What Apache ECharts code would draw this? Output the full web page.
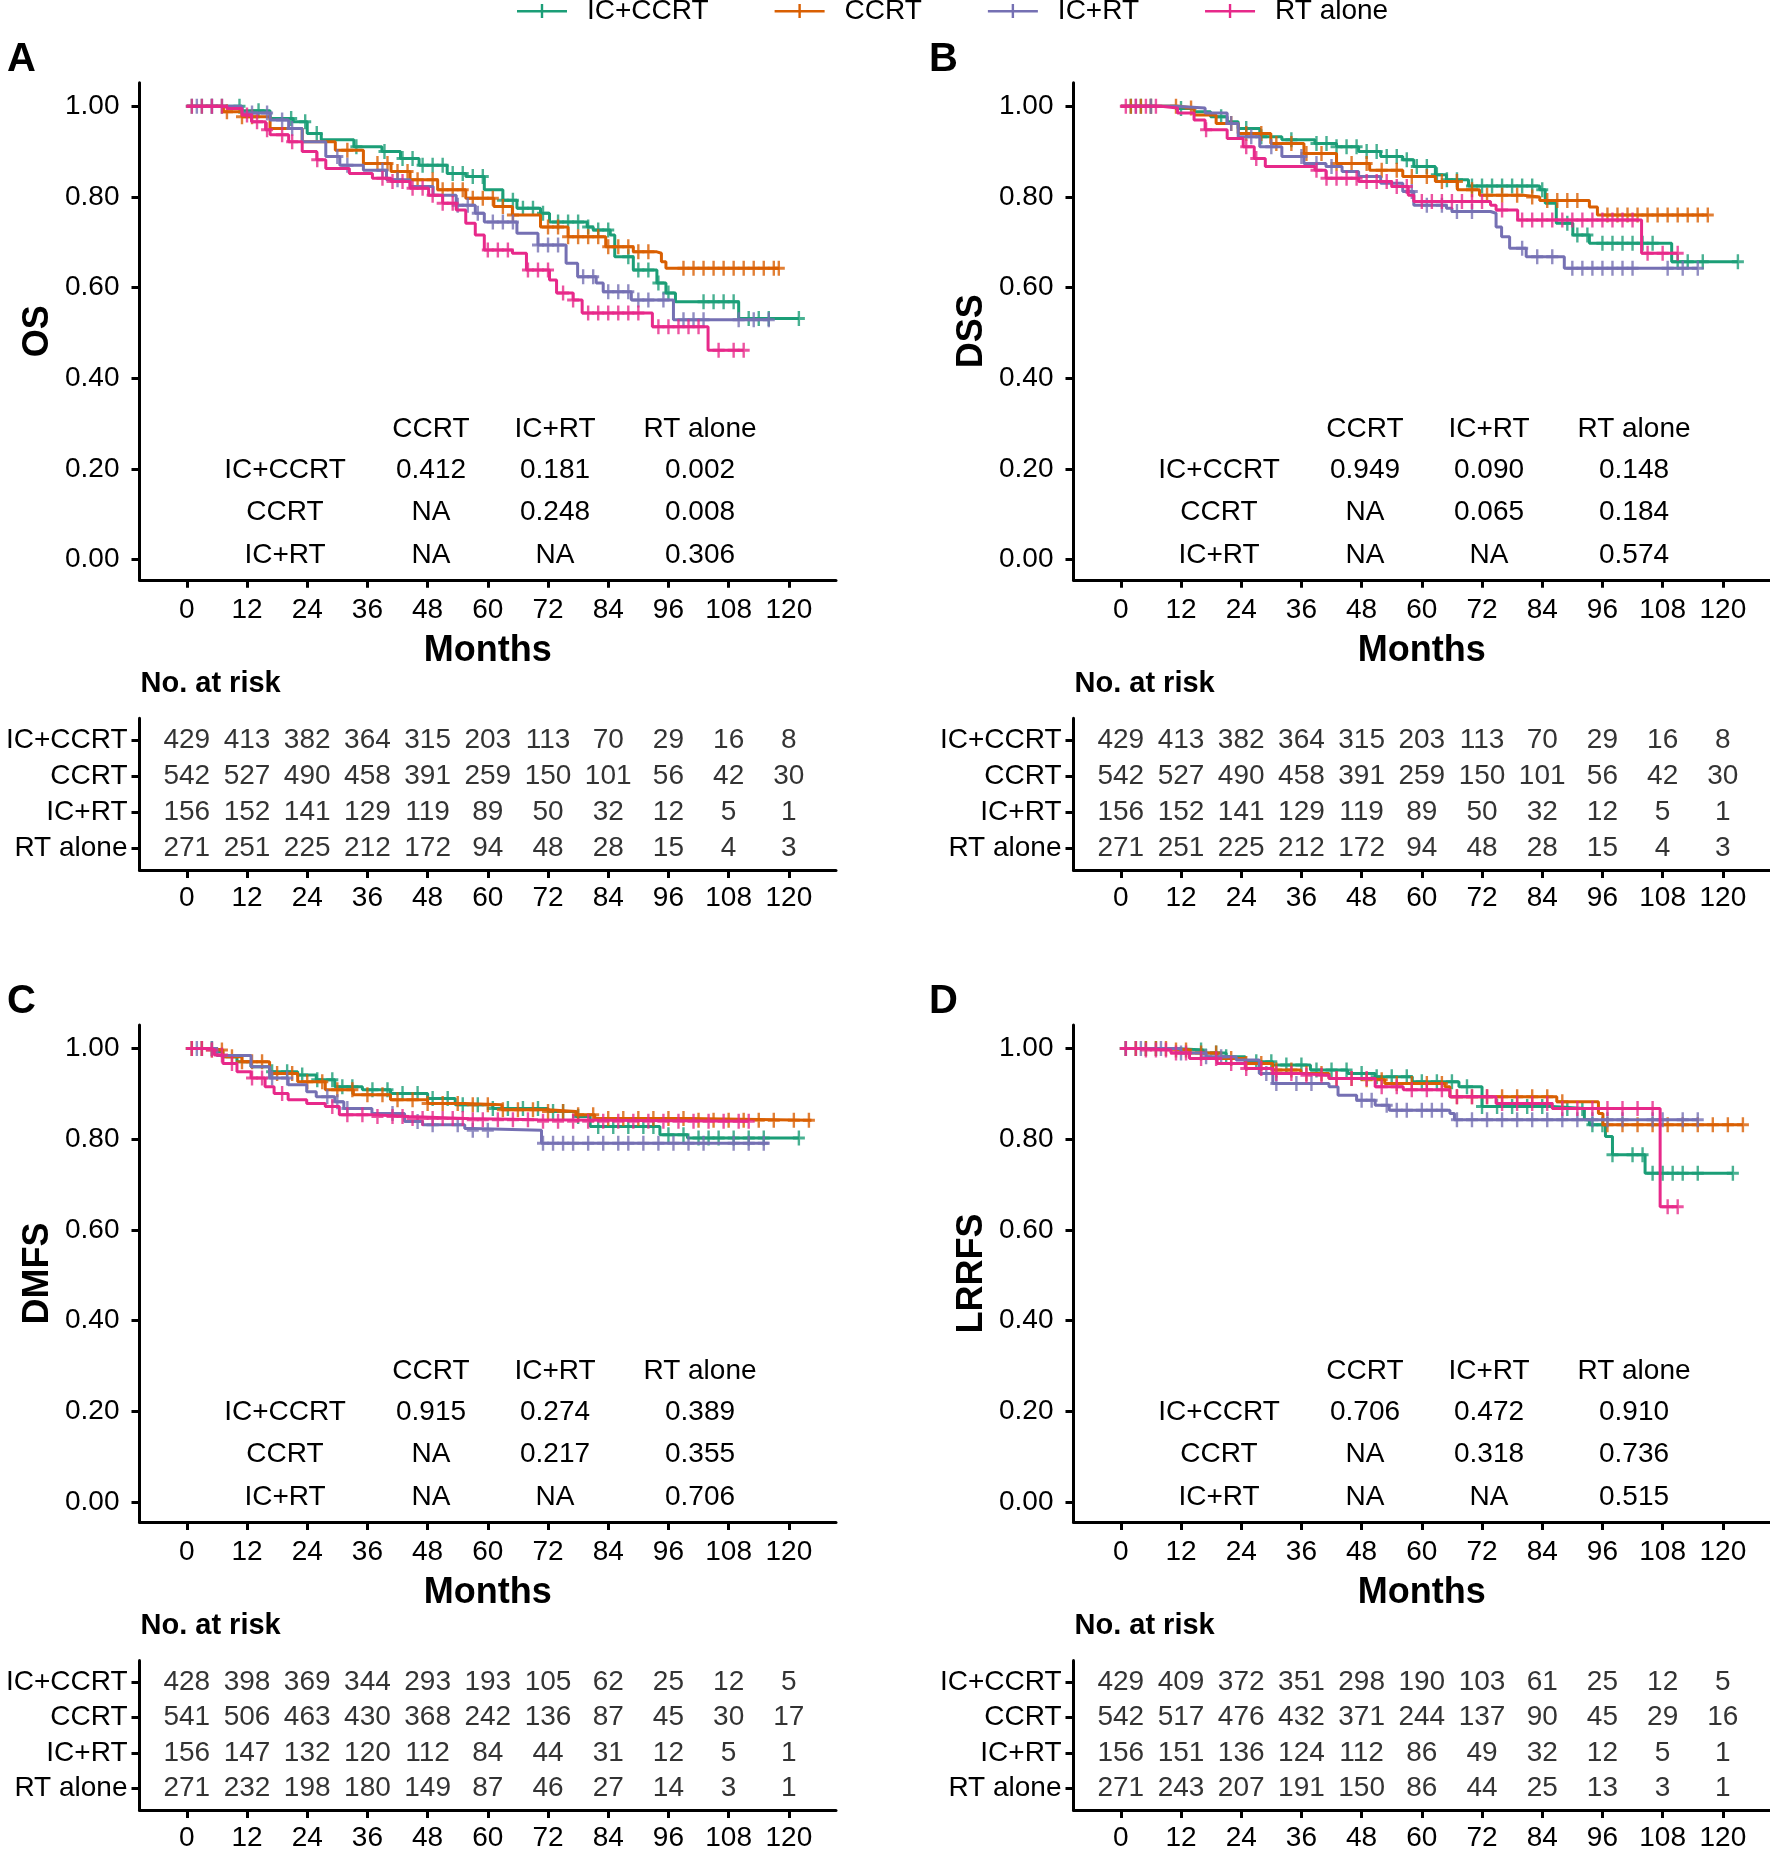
<!DOCTYPE html>
<html><head><meta charset="utf-8">
<script src="https://cdn.jsdelivr.net/npm/echarts@6/dist/echarts.min.js"></script>
<style>html,body{margin:0;padding:0;background:#fff}#c{width:1770px;height:1852px}</style>
</head><body><div id="c"></div>
<script>
// ---------------- DATA ----------------
const groups = ['IC+CCRT', 'CCRT', 'IC+RT', 'RT alone'];
const monthTicks = [0, 12, 24, 36, 48, 60, 72, 84, 96, 108, 120];
const survTicks = [0, 0.2, 0.4, 0.6, 0.8, 1.0];
const panelLetters = ['A', 'B', 'C', 'D'];
const panelTitles = ['OS', 'DSS', 'DMFS', 'LRRFS'];

// Panel A (OS) step curves [month, survival]
const A_ICCCRT = [[0,1],[11,0.99],[16.6,0.973],[21.2,0.966],[24,0.94],[26.8,0.926],[33.3,0.911],[38.9,0.9],[42.6,0.885],[46.3,0.87],[51.9,0.852],[55.6,0.845],[59.3,0.816],[63,0.793],[65.8,0.775],[70.5,0.764],[72.3,0.745],[79.8,0.734],[81,0.727],[84.4,0.716],[85.3,0.668],[89,0.639],[93.7,0.61],[95.5,0.588],[97.4,0.569],[110,0.532],[122,0.532]];
const A_CCRT = [[0,1],[7.3,0.988],[11,0.977],[16.6,0.951],[23,0.922],[29.6,0.903],[35.2,0.874],[40.7,0.856],[44.5,0.838],[50,0.816],[55.6,0.797],[61.2,0.779],[64.9,0.76],[70.5,0.734],[76,0.712],[83.5,0.69],[89,0.679],[93.7,0.676],[94.6,0.657],[95.5,0.643],[118,0.643]];
const A_ICRT = [[0,1],[11,0.985],[16.6,0.97],[20.3,0.951],[23,0.922],[27.7,0.889],[30.5,0.87],[35.2,0.859],[39.8,0.838],[44.5,0.823],[49.1,0.804],[53.7,0.782],[57.5,0.764],[59.3,0.745],[65.8,0.72],[70,0.694],[75.6,0.654],[77.9,0.624],[81.6,0.61],[83,0.591],[88.6,0.573],[97,0.529],[116,0.529]];
const A_RT = [[0,1],[8,0.995],[11,0.981],[12.9,0.966],[15.7,0.948],[16.6,0.937],[20.3,0.922],[23,0.9],[25.9,0.882],[27.7,0.863],[32.4,0.852],[37,0.841],[40.7,0.834],[44.5,0.819],[48.2,0.804],[51,0.786],[53.7,0.771],[55.6,0.742],[57.5,0.716],[59.3,0.683],[64.9,0.676],[67.7,0.639],[72.3,0.617],[73.7,0.588],[77,0.573],[78.8,0.544],[92.8,0.514],[103.9,0.462],[111,0.462]];
// Panel A censor times (months)
const A_ICCCRT_cens = [1,3,5,7,10.5,14.3,20.8,23.6,25.9,33.8,39.4,43,45,47,49,51,53,55,57,59,63,65,67,69,71,74,76,78,80,82,84,88,90,92,94,96,103,105,107,109,112,114,116,122];
const A_CCRT_cens = [8,11,13,32,38,40,42,44,46,49,51,53,55,57,59,61,63,65,72,74,76,78,80,82,84,86,88,90,92,99,101,103,105,107,109,111,113,115,117,118];
const A_ICRT_cens = [2,5,13,16,19,21,30,32,39,42,54,56,58,61,63,65,70,72,74,79,81,84,86,88,90,92,95,99,101,103,110,113,116];
const A_RT_cens = [1,3,5,7,12,14,16,19,21,26,39,41,43,45,47,49,51,53,60,62,64,68,70,72,75,77,80,82,84,86,88,90,94,96,98,100,102,106,109,111];

// Panel B (DSS)
const B_ICCCRT = [[0,1],[11,0.995],[14.6,0.988],[17.9,0.977],[21.2,0.966],[23.4,0.951],[27.7,0.933],[32.1,0.926],[38.7,0.918],[43,0.911],[47.4,0.9],[51.8,0.889],[56.2,0.882],[58.4,0.867],[62.7,0.849],[64.9,0.838],[69.3,0.824],[83.5,0.816],[84.6,0.786],[86.8,0.742],[90.1,0.716],[93.4,0.698],[109.8,0.657],[123,0.657]];
const B_CCRT = [[0,1],[11.3,0.996],[14.6,0.981],[19,0.962],[23.4,0.94],[29.9,0.918],[36.5,0.896],[43,0.874],[49.6,0.859],[56.2,0.845],[62.7,0.834],[67.1,0.816],[71.5,0.804],[80.2,0.8],[83.5,0.792],[93.4,0.778],[95,0.76],[117,0.76]];
const B_ICRT = [[0,1],[11,0.996],[16.8,0.985],[21.2,0.962],[23.4,0.933],[27.7,0.911],[32.1,0.889],[36.5,0.874],[40.9,0.867],[44.1,0.856],[47.4,0.845],[51.8,0.83],[56.2,0.812],[58.4,0.782],[64.9,0.775],[66,0.768],[73.7,0.764],[74.8,0.734],[75.9,0.712],[77.5,0.687],[80.8,0.668],[88.4,0.643],[115,0.643]];
const B_RT = [[0,1],[8,0.996],[11.3,0.985],[14.6,0.97],[16.8,0.948],[21.2,0.929],[24.4,0.911],[26.6,0.885],[28.8,0.867],[38.7,0.859],[40.9,0.841],[47.4,0.834],[54,0.823],[57.3,0.804],[58.4,0.79],[73.7,0.782],[74.8,0.771],[79.1,0.749],[103.8,0.676],[111,0.676]];
const B_ICCCRT_cens = [2,4,6,12,20,25,28,34,39,41,43,45,47,49,51,53,55,57,59,61,63,65,67,70,72,74,76,78,80,82,84,89,91,93,96,98,100,102,104,106,111,113,116,123];
const B_CCRT_cens = [2,4,6,11,14,22,25,28,31,34,37,40,43,46,49,52,55,58,61,64,67,70,73,76,79,82,85,87,89,91,97,99,101,103,105,107,109,111,113,115,117];
const B_ICRT_cens = [3,6,22,26,30,36,39,42,58,61,64,67,70,80,83,86,90,92,94,96,98,100,102,109,112,115];
const B_RT_cens = [1,3,5,7,17,25,27,39,41,43,45,47,49,51,53,55,57,60,62,64,66,68,70,72,76,80,82,84,86,88,90,92,94,96,98,100,102,105,108,111];

// Panel C (DMFS)
const C_ICCCRT = [[0,1],[5.4,0.993],[7.2,0.982],[10,0.971],[12.8,0.96],[16.5,0.949],[22.1,0.942],[25.8,0.931],[29.5,0.916],[35,0.909],[40.6,0.901],[48,0.89],[53.5,0.876],[61,0.868],[72,0.861],[77.6,0.85],[80.4,0.828],[94.3,0.81],[99.8,0.803],[122,0.803]];
const C_CCRT = [[0,1],[5,0.997],[7.2,0.982],[11,0.971],[16.5,0.945],[22.1,0.927],[27.6,0.909],[33.2,0.898],[40.6,0.887],[48,0.879],[55.4,0.876],[62.8,0.865],[72,0.861],[77.6,0.854],[81.3,0.846],[100,0.842],[124.5,0.842]];
const C_ICRT = [[0,1],[6,0.985],[12.8,0.96],[16.5,0.935],[20.2,0.92],[23.9,0.905],[25.8,0.894],[29.5,0.883],[31.3,0.868],[36.9,0.857],[43.4,0.839],[47,0.832],[55.4,0.824],[57,0.82],[70.7,0.791],[116,0.791]];
const C_RT = [[0,1],[5,0.997],[5.5,0.986],[7.2,0.967],[10,0.949],[12.8,0.935],[15.6,0.916],[17.4,0.901],[20.2,0.887],[23.9,0.879],[27.6,0.872],[30.4,0.854],[36.9,0.85],[44.3,0.846],[55.4,0.843],[70,0.84],[112,0.84]];
const C_ICCCRT_cens = [1,3,5,17,20,23,26,29,31,33,37,40,43,46,49,52,55,58,61,64,67,70,73,75,78,82,85,88,91,93,96,99,102,104,106,109,112,115,122];
const C_CCRT_cens = [1,3,5,7,9,11,13,15,18,21,24,27,30,33,36,39,42,45,48,51,54,57,60,63,66,69,72,75,78,81,84,87,90,93,96,99,102,105,108,111,114,117,121,124];
const C_ICRT_cens = [2,5,17,20,28,30,32,41,46,49,54,57,60,71,73,75,77,80,83,86,88,91,94,97,100,103,109,112,115];
const C_RT_cens = [1,3,5,7,9,13,15,19,29,32,35,38,41,43,45,47,49,51,53,55,57,59,62,65,68,71,74,77,80,83,86,89,92,95,98,101,104,107,110,112];

// Panel D (LRRFS)
const D_ICCCRT = [[0,1],[10.9,0.997],[16.4,0.99],[21,0.982],[24.8,0.971],[30.3,0.964],[37.8,0.953],[45.2,0.945],[50.7,0.938],[58.1,0.927],[67.4,0.916],[72,0.872],[86,0.868],[92.4,0.843],[93.4,0.832],[96.6,0.806],[98,0.766],[104.5,0.725],[122,0.725]];
const D_CCRT = [[0,1],[10,0.997],[13.7,0.99],[19.2,0.978],[24.8,0.967],[30.3,0.953],[35.9,0.945],[41.5,0.934],[48.9,0.931],[52.6,0.923],[64.6,0.916],[65.6,0.894],[86.9,0.883],[95.2,0.857],[96.1,0.832],[124,0.832]];
const D_ICRT = [[0,1],[12,0.99],[17,0.982],[23,0.975],[27.6,0.945],[30.3,0.923],[41.5,0.916],[43.3,0.897],[47,0.886],[50.7,0.875],[53.5,0.864],[65.6,0.857],[66.5,0.843],[115,0.843]];
const D_RT = [[0,1],[4,0.997],[10,0.99],[13.7,0.978],[19.2,0.967],[24.8,0.956],[30.3,0.945],[35.9,0.941],[41.5,0.934],[50.7,0.916],[56.3,0.909],[65.6,0.894],[74.8,0.879],[86,0.868],[107.5,0.651],[111,0.651]];
const D_ICCCRT_cens = [1,3,5,7,16,19,21,27,30,33,36,39,42,45,48,51,54,57,60,63,66,69,72,75,78,81,84,89,92,94,96,98,102,104,106,108,110,112,115,122];
const D_CCRT_cens = [1,3,5,7,9,11,13,16,19,22,25,28,31,34,37,40,43,46,49,52,55,58,61,64,67,70,73,76,79,82,85,88,97,100,103,106,109,112,115,118,121,124];
const D_ICRT_cens = [1,4,8,12,17,20,29,31,35,38,48,50,53,55,57,60,62,64,67,70,73,76,79,82,85,88,91,94,97,100,106,108,112,115];
const D_RT_cens = [1,3,5,7,9,11,13,16,19,22,25,28,31,34,37,40,43,46,49,52,55,58,61,64,67,70,73,76,79,82,85,88,91,94,97,100,103,106,109,111];

// Numbers at risk (at monthTicks)
const riskAB_ICCCRT = [429,413,382,364,315,203,113,70,29,16,8];
const riskAB_CCRT   = [542,527,490,458,391,259,150,101,56,42,30];
const riskAB_ICRT   = [156,152,141,129,119,89,50,32,12,5,1];
const riskAB_RT     = [271,251,225,212,172,94,48,28,15,4,3];
const riskC_ICCCRT = [428,398,369,344,293,193,105,62,25,12,5];
const riskC_CCRT   = [541,506,463,430,368,242,136,87,45,30,17];
const riskC_ICRT   = [156,147,132,120,112,84,44,31,12,5,1];
const riskC_RT     = [271,232,198,180,149,87,46,27,14,3,1];
const riskD_ICCCRT = [429,409,372,351,298,190,103,61,25,12,5];
const riskD_CCRT   = [542,517,476,432,371,244,137,90,45,29,16];
const riskD_ICRT   = [156,151,136,124,112,86,49,32,12,5,1];
const riskD_RT     = [271,243,207,191,150,86,44,25,13,3,1];

// Pairwise p-values
const pHeader = ['CCRT', 'IC+RT', 'RT alone'];
const pRowLabels = ['IC+CCRT', 'CCRT', 'IC+RT'];
const pA = [['0.412','0.181','0.002'],['NA','0.248','0.008'],['NA','NA','0.306']];
const pB = [['0.949','0.090','0.148'],['NA','0.065','0.184'],['NA','NA','0.574']];
const pC = [['0.915','0.274','0.389'],['NA','0.217','0.355'],['NA','NA','0.706']];
const pD = [['0.706','0.472','0.910'],['NA','0.318','0.736'],['NA','NA','0.515']];

// ---------------- BUILD ----------------
const colors = ['#1B9E77', '#D95F02', '#7570B3', '#E7298A'];
const FONT = "'Liberation Sans', Arial, Helvetica, sans-serif";

// condensed regular font if installed (reference text is narrow and tall)
function hasFont(name) {
  const ctx = document.createElement('canvas').getContext('2d');
  const s = 'IC+CCRT 0.123 RT alone';
  ctx.font = '40px monospace'; const a = ctx.measureText(s).width;
  ctx.font = `40px "${name}", monospace`; const b = ctx.measureText(s).width;
  return Math.abs(a - b) > 0.5;
}
const NARROW = hasFont('Liberation Sans Narrow');
const RFONT = NARROW ? "'Liberation Sans Narrow', 'Liberation Sans', Arial, sans-serif" : FONT;
const RSIZE = NARROW ? 33 : 28;

const PLUS = 'path://M4,0h2v4h4v2h-4v4h-2v-4h-4v-2h4z';

const panels = [
  { dx: 0,   dy: 0,     letterX: 7,   curves: [A_ICCCRT, A_CCRT, A_ICRT, A_RT], cens: [A_ICCCRT_cens, A_CCRT_cens, A_ICRT_cens, A_RT_cens], risk: [riskAB_ICCCRT, riskAB_CCRT, riskAB_ICRT, riskAB_RT], p: pA },
  { dx: 934, dy: 0,     letterX: 929, curves: [B_ICCCRT, B_CCRT, B_ICRT, B_RT], cens: [B_ICCCRT_cens, B_CCRT_cens, B_ICRT_cens, B_RT_cens], risk: [riskAB_ICCCRT, riskAB_CCRT, riskAB_ICRT, riskAB_RT], p: pB },
  { dx: 0,   dy: 942.3, letterX: 7,   curves: [C_ICCCRT, C_CCRT, C_ICRT, C_RT], cens: [C_ICCCRT_cens, C_CCRT_cens, C_ICRT_cens, C_RT_cens], risk: [riskC_ICCCRT, riskC_CCRT, riskC_ICRT, riskC_RT], p: pC },
  { dx: 934, dy: 942.3, letterX: 929, curves: [D_ICCCRT, D_CCRT, D_ICRT, D_RT], cens: [D_ICCCRT_cens, D_CCRT_cens, D_ICRT_cens, D_RT_cens], risk: [riskD_ICCCRT, riskD_CCRT, riskD_ICRT, riskD_RT], p: pD }
];

function survAt(steps, t) {
  let s = steps[0][1];
  for (const p of steps) { if (p[0] <= t) s = p[1]; else break; }
  return s;
}

const grids = [], xAxes = [], yAxes = [], series = [], graphics = [];
const axisLineStyle = { color: '#000', width: 3 };
const tickStyle = { color: '#000', width: 3 };
const labelBase = { color: '#000', fontSize: RSIZE, fontFamily: RFONT };

panels.forEach((P, i) => {
  const L = 139.5 + P.dx, W = 696.5;
  grids.push({ left: L, top: 82.7 + P.dy, width: W, height: 497.1 });
  grids.push({ left: L, top: 718.3 + P.dy, width: W, height: 151.6 });
  const gKM = 2 * i, gR = 2 * i + 1;

  xAxes.push({
    gridIndex: gKM, type: 'value', min: -9.43, max: 129.4,
    axisLine: { onZero: false, lineStyle: axisLineStyle },
    axisTick: { customValues: monthTicks, length: 8, lineStyle: tickStyle },
    axisLabel: Object.assign({ customValues: monthTicks, margin: NARROW ? 14 : 16 }, labelBase),
    splitLine: { show: false },
    name: 'Months', nameLocation: 'middle', nameGap: 53,
    nameTextStyle: { color: '#000', fontSize: 36, fontWeight: 'bold', fontFamily: FONT }
  });
  yAxes.push({
    gridIndex: gKM, type: 'value', min: -0.0443, max: 1.052,
    axisLine: { show: true, onZero: false, lineStyle: axisLineStyle },
    axisTick: { show: true, customValues: survTicks, length: 8, lineStyle: tickStyle },
    axisLabel: Object.assign({ customValues: survTicks, margin: 20, formatter: v => Number(v).toFixed(2) }, labelBase),
    splitLine: { show: false },
    name: panelTitles[i], nameLocation: 'middle', nameGap: 83, nameRotate: 90,
    nameTextStyle: { color: '#000', fontSize: 36, fontWeight: 'bold', fontFamily: FONT }
  });
  xAxes.push({
    gridIndex: gR, type: 'value', min: -9.43, max: 129.4,
    axisLine: { onZero: false, lineStyle: axisLineStyle },
    axisTick: { customValues: monthTicks, length: 8, lineStyle: tickStyle },
    axisLabel: Object.assign({ customValues: monthTicks, margin: NARROW ? 12 : 14 }, labelBase),
    splitLine: { show: false }
  });
  yAxes.push({
    gridIndex: gR, type: 'value', min: 0.4, max: 4.6,
    axisLine: { show: true, onZero: false, lineStyle: axisLineStyle },
    axisTick: { show: true, customValues: [1, 2, 3, 4], length: 8, lineStyle: tickStyle },
    axisLabel: Object.assign({ customValues: [1, 2, 3, 4], margin: 12, formatter: v => groups[4 - Math.round(v)] }, labelBase),
    splitLine: { show: false }
  });

  groups.forEach((g, k) => {
    const steps = P.curves[k];
    series.push({
      type: 'line', name: g, xAxisIndex: gKM, yAxisIndex: gKM, data: steps, step: 'end',
      showSymbol: false, symbol: 'none', lineStyle: { color: colors[k], width: 3 },
      itemStyle: { color: colors[k] }, z: 2 + k, animation: false, silent: true
    });
    series.push({
      type: 'scatter', name: g, xAxisIndex: gKM, yAxisIndex: gKM,
      data: P.cens[k].map(t => [t, survAt(steps, t)]),
      symbol: PLUS, symbolSize: [12, 15], itemStyle: { color: colors[k] }, z: 2 + k, animation: false, silent: true
    });
    series.push({
      type: 'scatter', name: 'risk-' + g, xAxisIndex: gR, yAxisIndex: gR,
      data: monthTicks.map((t, j) => [t, 4 - k, P.risk[k][j]]),
      symbol: 'circle', symbolSize: 1, itemStyle: { color: 'rgba(0,0,0,0)' },
      label: { show: true, position: 'inside', formatter: p => String(p.data[2]), color: '#000', fontSize: RSIZE, fontFamily: RFONT },
      animation: false, silent: true
    });
  });

  graphics.push({ type: 'text', left: P.letterX, top: 40 + P.dy,
    style: { text: panelLetters[i], fill: '#000', font: `bold 40px ${FONT}` } });
  graphics.push({ type: 'text', left: 140.5 + P.dx, top: 669 + P.dy,
    style: { text: 'No. at risk', fill: '#000', font: `bold 29px ${FONT}` } });
  const colX = [431, 555, 700], rowLabelX = 285, rowY = [470, 512, 555], headY = 429;
  const tf = `${RSIZE}px ${RFONT}`;
  pHeader.forEach((h, c) => graphics.push({ type: 'text', x: colX[c] + P.dx, y: headY + P.dy,
    style: { text: h, fill: '#000', font: tf, textAlign: 'center', textVerticalAlign: 'middle' } }));
  pRowLabels.forEach((r, rr) => {
    graphics.push({ type: 'text', x: rowLabelX + P.dx, y: rowY[rr] + P.dy,
      style: { text: r, fill: '#000', font: tf, textAlign: 'center', textVerticalAlign: 'middle' } });
    P.p[rr].forEach((v, c) => graphics.push({ type: 'text', x: colX[c] + P.dx, y: rowY[rr] + P.dy,
      style: { text: v, fill: '#000', font: tf, textAlign: 'center', textVerticalAlign: 'middle' } }));
  });
});

const chart = echarts.init(document.getElementById('c'), null, { renderer: 'canvas' });
chart.setOption({
  backgroundColor: '#fff',
  animation: false,
  legend: {
    data: groups, left: 517, top: -3, padding: 0, itemGap: NARROW ? 70 : 66,
    itemWidth: 50, itemHeight: 14, icon: 'path://M0,6h50v2.5H0z M23.8,0h2.4v14h-2.4z',
    textStyle: { color: '#000', fontSize: RSIZE, fontFamily: RFONT, padding: [0, 0, 0, 15] }
  },
  grid: grids, xAxis: xAxes, yAxis: yAxes, series: series, graphic: graphics
});
</script></body></html>
